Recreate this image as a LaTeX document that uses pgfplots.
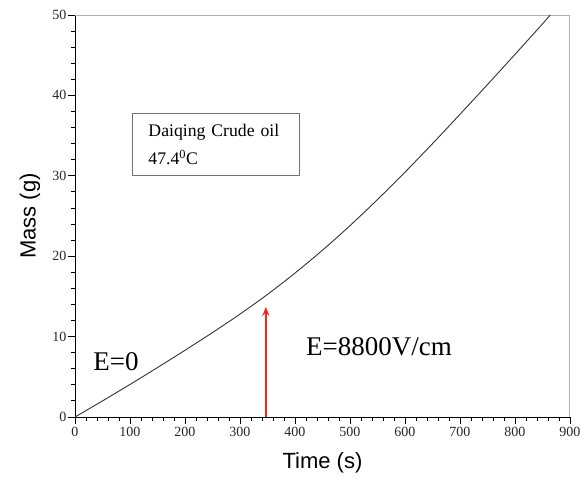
\documentclass[border=0pt]{standalone}
\usepackage{pgfplots}
\pgfplotsset{compat=1.18}
\usetikzlibrary{arrows.meta}
\usepackage{fontspec}
\setmainfont{Liberation Serif}
\setsansfont{Liberation Sans}
\definecolor{arrowred}{RGB}{240,40,30}
\begin{document}
\begin{tikzpicture}
\begin{axis}[
  scale only axis,
  width=495pt, height=402pt,
  xmin=0, xmax=900, ymin=0, ymax=50,
  axis lines*=left,
  axis line style={black, line width=0.9pt},
  xtick={0,100,...,900}, ytick={0,10,...,50},
  minor x tick num=4, minor y tick num=4,
  tick align=outside,
  major tick length=7pt, minor tick length=4pt,
  tick style={black, line width=0.9pt},
  /pgf/number format/assume math mode=true,
  ticklabel style={font=\fontsize{14}{16}\selectfont, text=black!85},
  yticklabel style={xshift=2pt},
  xlabel={Time (s)}, ylabel={Mass (g)},
  every axis x label/.style={at={(axis description cs:0.5,-0.1144)}, anchor=center, font=\sffamily\fontsize{22}{24}\selectfont},
  every axis y label/.style={at={(axis description cs:-0.091,0.5)}, rotate=90, anchor=center, font=\sffamily\fontsize{22}{24}\selectfont},
  clip=false,
]
\draw[black!30, line width=1pt] (rel axis cs:0,1) -- (rel axis cs:1,1) -- (rel axis cs:1,0);
\addplot[black!80, line width=0.9pt, smooth] coordinates {
(0,0) (50,2.0) (100,4.05) (150,6.15) (200,8.3) (250,10.5) (300,12.8) (350,15.25)
(400,17.9) (450,20.75) (500,23.8) (550,27.05) (600,30.45) (650,34.0) (700,37.65)
(750,41.35) (800,45.1) (850,48.9) (864,50)
};
\addplot[arrowred, line width=1.5pt] coordinates {(347,0) (347,12.8)};
\addplot[arrowred, fill=arrowred, line width=1.5pt, -{Stealth[length=9pt,width=7pt,color=arrowred,fill=arrowred]}] coordinates {(347,12.0) (347,13.7)};
\node[anchor=west, font=\fontsize{27}{30}\selectfont] at (axis cs:27,6.9) {E=0};
\node[anchor=west, font=\fontsize{27}{30}\selectfont] at (axis cs:414,8.7) {E=8800V/cm};
\node[draw=black!55, line width=1pt, anchor=north west, minimum width=163pt, minimum height=62pt,
  text width=135pt, inner xsep=16pt, align=left, font=\fontsize{17.7}{28}\selectfont]
  at (axis cs:103.6,37.8) {Daiqing Crude oil\\47.4\textsuperscript{0}C};
\end{axis}
\pgfresetboundingbox
\path (-75pt,-67pt) rectangle (506pt,417pt);
\end{tikzpicture}
\end{document}
